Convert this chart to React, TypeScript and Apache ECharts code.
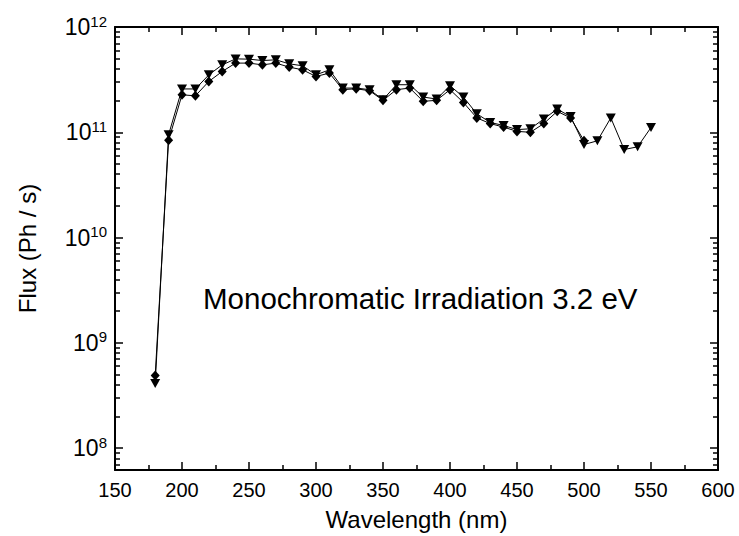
import React, { useEffect, useRef } from "react";
import * as echarts from "echarts";

const wavelengthsDiamond = [180, 190, 200, 210, 220, 230, 240, 250, 260, 270, 280, 290, 300, 310, 320, 330, 340, 350, 360, 370, 380, 390, 400, 410, 420, 430, 440, 450, 460, 470, 480, 490, 500];
const fluxDiamond = [4.9e8, 8.4e10, 2.27e11, 2.22e11, 3.04e11, 3.78e11, 4.54e11, 4.54e11, 4.37e11, 4.54e11, 4.16e11, 3.92e11, 3.39e11, 3.65e11, 2.54e11, 2.59e11, 2.48e11, 2.01e11, 2.54e11, 2.63e11, 1.97e11, 2.01e11, 2.54e11, 1.92e11, 1.37e11, 1.21e11, 1.12e11, 1.02e11, 1.0e11, 1.21e11, 1.58e11, 1.37e11, 8.3e10];

const wavelengthsTriangle = [180, 190, 200, 210, 220, 230, 240, 250, 260, 270, 280, 290, 300, 310, 320, 330, 340, 350, 360, 370, 380, 390, 400, 410, 420, 430, 440, 450, 460, 470, 480, 490, 500, 510, 520, 530, 540, 550];
const fluxTriangle = [4.1e8, 9.5e10, 2.58e11, 2.58e11, 3.51e11, 4.37e11, 4.98e11, 4.95e11, 4.8e11, 4.88e11, 4.47e11, 4.28e11, 3.51e11, 3.92e11, 2.63e11, 2.63e11, 2.54e11, 2.04e11, 2.83e11, 2.83e11, 2.16e11, 2.07e11, 2.77e11, 2.16e11, 1.5e11, 1.24e11, 1.16e11, 1.06e11, 1.08e11, 1.34e11, 1.66e11, 1.41e11, 7.65e10, 8.3e10, 1.37e11, 6.86e10, 7.28e10, 1.11e11];

const yMajorTicks = [1e8, 1e9, 1e10, 1e11, 1e12];
const xTitle = "Wavelength (nm)";
const yTitle = "Flux (Ph / s)";
const annotation = "Monochromatic Irradiation 3.2 eV";

const Y_MIN = 6.2e7;
const Y_MAX = 1e12;
const FONT = "Liberation Sans, Arial, sans-serif";

function minorLogTicks(): number[] {
  const out: number[] = [];
  for (let n = 7; n <= 11; n++) {
    for (let k = 2; k <= 9; k++) {
      const v = k * Math.pow(10, n);
      if (v >= Y_MIN && v <= Y_MAX) out.push(v);
    }
  }
  return out;
}

export default function App() {
  const ref = useRef<HTMLDivElement>(null);
  useEffect(() => {
    document.body.style.margin = "0";
    if (!ref.current) return;
    const chart = echarts.init(ref.current, null, { renderer: "svg" });
    const minor = minorLogTicks();
    const lineStyle = { color: "#000", width: 2 };
    const majorTick = { show: true, inside: true, length: 8, lineStyle: { color: "#000", width: 1.5 } };
    const minorTickStyle = { show: true, inside: true, length: 5, lineStyle: { color: "#000", width: 1.5 } };
    const yBase = { type: "log", logBase: 10, min: Y_MIN, max: Y_MAX, splitLine: { show: false } };
    chart.setOption({
      animation: false,
      grid: { left: 115, right: 21, top: 27, bottom: 64 },
      xAxis: [
        {
          type: "value",
          min: 150,
          max: 600,
          interval: 50,
          position: "bottom",
          name: xTitle,
          nameLocation: "middle",
          nameGap: 37,
          nameTextStyle: { fontFamily: FONT, fontSize: 24, color: "#000" },
          axisLine: { show: true, lineStyle },
          axisTick: majorTick,
          minorTick: { ...minorTickStyle, splitNumber: 2 },
          splitLine: { show: false },
          minorSplitLine: { show: false },
          axisLabel: { fontFamily: FONT, fontSize: 20, color: "#000", margin: 10 },
        },
        {
          type: "value",
          min: 150,
          max: 600,
          interval: 50,
          position: "top",
          axisLine: { show: true, lineStyle },
          axisTick: majorTick,
          minorTick: { ...minorTickStyle, splitNumber: 2 },
          splitLine: { show: false },
          axisLabel: { show: false },
        },
      ],
      yAxis: [
        {
          ...yBase,
          position: "left",
          name: yTitle,
          nameLocation: "middle",
          nameGap: 76,
          nameTextStyle: { fontFamily: FONT, fontSize: 24, color: "#000" },
          axisLine: { show: true, lineStyle },
          axisTick: { ...majorTick, customValues: yMajorTicks },
          axisLabel: {
            customValues: yMajorTicks,
            margin: 8,
            formatter: (v: number) => {
              const e = Math.round(Math.log10(v));
              return `{b|10}{s|${e}}`;
            },
            rich: {
              b: { fontFamily: FONT, fontSize: 23, color: "#000" },
              s: { fontFamily: FONT, fontSize: 15, color: "#000", padding: [0, 0, 12, 0] },
            },
          },
        },
        {
          ...yBase,
          position: "left",
          axisLine: { show: false },
          axisTick: { ...minorTickStyle, customValues: minor },
          axisLabel: { show: false },
        },
        {
          ...yBase,
          position: "right",
          axisLine: { show: true, lineStyle },
          axisTick: { ...majorTick, customValues: yMajorTicks },
          axisLabel: { show: false },
        },
        {
          ...yBase,
          position: "right",
          axisLine: { show: false },
          axisTick: { ...minorTickStyle, customValues: minor },
          axisLabel: { show: false },
        },
      ],
      graphic: [
        {
          type: "text",
          x: 203,
          y: 298,
          style: {
            text: annotation,
            font: `29.5px ${FONT}`,
            fill: "#000",
            verticalAlign: "middle",
          },
        },
      ],
      series: [
        {
          type: "line",
          xAxisIndex: 0,
          yAxisIndex: 0,
          data: wavelengthsTriangle.map((w, i) => [w, fluxTriangle[i]]),
          symbol: "triangle",
          symbolRotate: 180,
          symbolSize: [10, 9],
          lineStyle: { color: "#000", width: 1 },
          itemStyle: { color: "#000" },
          z: 3,
        },
        {
          type: "line",
          xAxisIndex: 0,
          yAxisIndex: 0,
          data: wavelengthsDiamond.map((w, i) => [w, fluxDiamond[i]]),
          symbol: "diamond",
          symbolSize: [9, 10],
          lineStyle: { color: "#000", width: 1 },
          itemStyle: { color: "#000" },
          z: 4,
        },
      ],
    });
    return () => chart.dispose();
  }, []);
  return <div ref={ref} style={{ width: 739, height: 536 }} />;
}
